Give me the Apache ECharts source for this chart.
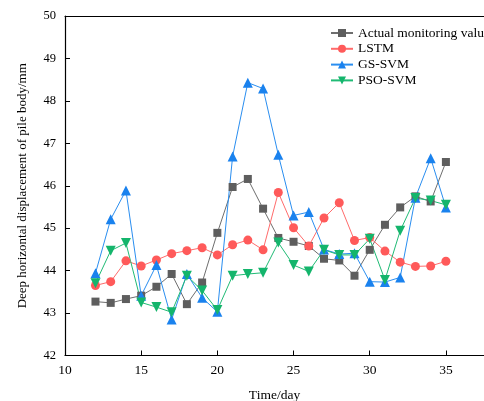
<!DOCTYPE html>
<html><head><meta charset="utf-8">
<script src="https://cdn.jsdelivr.net/npm/echarts@6/dist/echarts.min.js"></script>
<style>html,body{margin:0;padding:0;background:#fff}#c{width:484px;height:401px}</style>
</head><body><div id="c"></div>
<script>
const days = [12,13,14,15,16,17,18,19,20,21,22,23,24,25,26,27,28,29,30,31,32,33,34,35];
const actual = [43.27,43.24,43.33,43.41,43.62,43.92,43.21,43.72,44.89,45.97,46.16,45.46,44.77,44.68,44.58,44.28,44.24,43.88,44.49,45.08,45.49,45.75,45.63,46.56];
const lstm = [43.65,43.74,44.23,44.11,44.25,44.40,44.47,44.54,44.37,44.61,44.72,44.49,45.84,45.01,44.58,45.24,45.60,44.71,44.78,44.46,44.20,44.10,44.11,44.22];
const gssvm = [43.94,45.21,45.89,43.41,44.13,42.85,43.92,43.36,43.03,46.69,48.43,48.29,46.73,45.30,45.38,44.50,44.39,44.41,43.74,43.73,43.84,45.72,46.65,45.49];
const psosvm = [43.70,44.47,44.65,43.25,43.14,43.02,43.88,43.53,43.07,43.88,43.92,43.95,44.66,44.13,43.98,44.49,44.37,44.37,44.75,43.78,44.94,45.71,45.65,45.55];
const seriesNames = ['Actual monitoring value','LSTM','GS-SVM','PSO-SVM'];
const xTicks = [10,15,20,25,30,35];
const yTicks = [42,43,44,45,46,47,48,49,50];
const xMax = 37.5;

const font = '"Liberation Serif","Times New Roman",serif';
const pair = arr => days.map((d,i)=>[d,arr[i]]);
const chart = echarts.init(document.getElementById('c'), null, {renderer:'canvas'});
function mk(name, data, color, lineColor, symbol, size){
  return {name, type:'line', data:pair(data), symbol, symbolSize:size,
    lineStyle:{color:lineColor,width:1}, itemStyle:{color:color, opacity:1},
    emphasis:{disabled:true}, animation:false, z:2};
}
chart.setOption({
  animation:false,
  backgroundColor:'#fff',
  grid:{left:65, top:16, right:0, bottom:45.5, show:false, containLabel:false, outerBoundsMode:'none'},
  legend:{
    orient:'vertical', left:325, top:21, itemWidth:22, itemHeight:10, itemGap:1.8,
    textStyle:{fontFamily:font, fontSize:13.5, color:'#000'},
    data:seriesNames
  },
  xAxis:[{type:'value', min:xTicks[0], max:xMax, interval:5,
    name:'Time/day', nameLocation:'middle', nameGap:33,
    nameTextStyle:{fontFamily:font, fontSize:13.5, color:'#000'},
    axisLine:{show:true, onZero:false, lineStyle:{color:'#000', width:1.2}},
    axisTick:{show:true, inside:true, length:5, lineStyle:{color:'#000'}},
    axisLabel:{fontFamily:font, fontSize:13.5, color:'#000', margin:8, showMaxLabel:false},
    splitLine:{show:false}},
   {type:'value', position:'top', min:xTicks[0], max:xMax,
    axisLine:{show:true, onZero:false, lineStyle:{color:'#000', width:1}},
    axisTick:{show:false}, axisLabel:{show:false}, splitLine:{show:false}}],
  yAxis:{type:'value', min:yTicks[0], max:yTicks[yTicks.length-1], interval:1,
    name:'Deep horizontal displacement of pile body/mm', nameLocation:'middle', nameGap:36,
    nameTextStyle:{fontFamily:font, fontSize:13, color:'#000'},
    axisLine:{show:true, onZero:false, lineStyle:{color:'#000', width:1.2}},
    axisTick:{show:true, inside:true, length:5, lineStyle:{color:'#000'}},
    axisLabel:{fontFamily:font, fontSize:12.5, color:'#000', margin:9},
    splitLine:{show:false}},
  series:[
    mk(seriesNames[0], actual, '#5e5e5e', '#6e6e6e', 'rect', 8),
    mk(seriesNames[1], lstm, '#ff5a5a', '#ff6b6b', 'circle', 9),
    mk(seriesNames[2], gssvm, '#1a82ee', '#2a8ef0', 'triangle', 10),
    mk(seriesNames[3], psosvm, '#14b56c', '#20bb75', 'path://M0,0 L10,0 L5,9 Z', 10)
  ]
});
</script></body></html>
